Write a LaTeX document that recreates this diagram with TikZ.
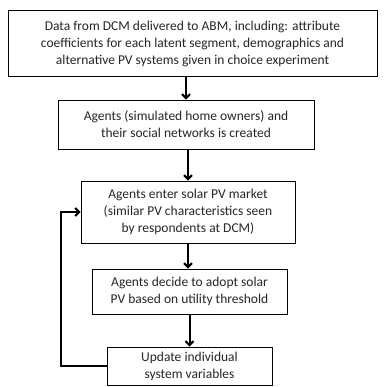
\documentclass[tikz,border=0pt]{standalone}
\usepackage{fontspec}
\setmainfont{Carlito}
\usetikzlibrary{arrows.meta}

\begin{document}
\begin{tikzpicture}[x=1pt, y=1pt,
  stepbox/.style={draw=black, line width=0.9pt, fill=white, align=center, font=\fontsize{13.5}{17}\selectfont, text=black!85, inner sep=0pt},
  flow/.style={line width=2pt, -{Straight Barb[length=4pt, width=8pt]}}]
\useasboundingbox (0,0) rectangle (384,-387);
\node[stepbox, minimum width=369, minimum height=66] (data) at (192.5,-43.5) {Data from DCM delivered to ABM, including: attribute\\coefficients for each latent segment, demographics and\\alternative PV systems given in choice experiment};
\node[stepbox, minimum width=256, minimum height=49] (agents) at (186,-124.5) {Agents (simulated home owners) and\\their social networks is created};
\node[stepbox, minimum width=214, minimum height=62] (market) at (188,-212) {Agents enter solar PV market\\(similar PV characteristics seen\\by respondents at DCM)};
\node[stepbox, minimum width=195, minimum height=45] (adopt) at (189.5,-291.5) {Agents decide to adopt solar\\PV based on utility threshold};
\node[stepbox, minimum width=165, minimum height=38] (update) at (189.5,-366) {Update individual\\system variables};

\draw[flow] (agents.north |- data.south) -- (agents.north);
\draw[flow] (agents.south -| market.north) -- (market.north);
\draw[flow] (market.south) -- (market.south |- adopt.north);
\draw[flow] (adopt.south) -- (update.north);
% feedback loop back to the market step
\draw[flow] (update.west) -- ++(-46,0) |- (market.west);
\end{tikzpicture}
\end{document}
